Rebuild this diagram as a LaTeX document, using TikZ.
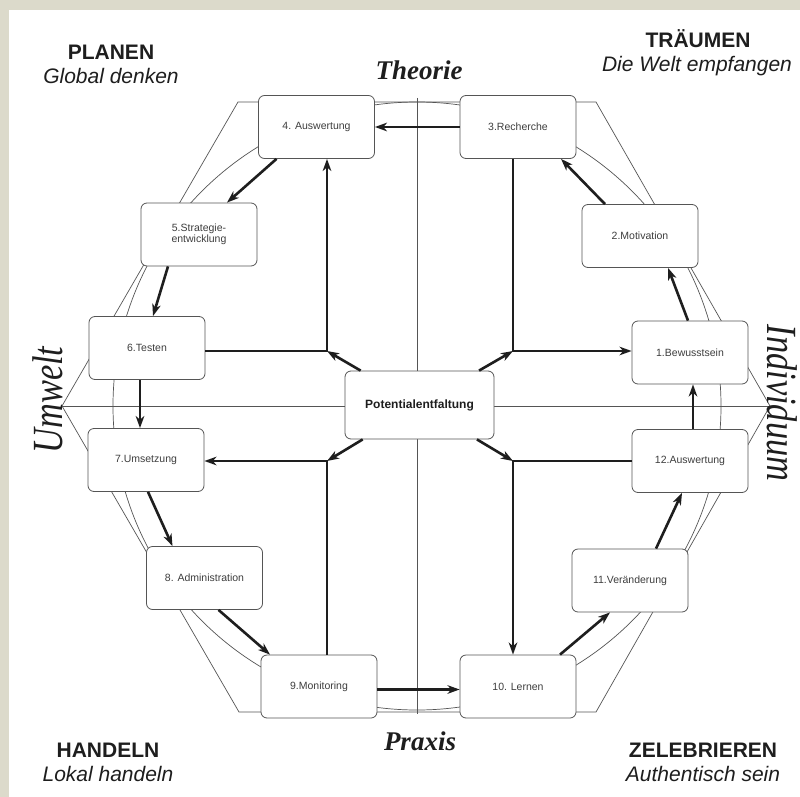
\documentclass[tikz,border=0pt]{standalone}
\usepackage{fontspec}
\setmainfont{Liberation Sans}
\newfontfamily\axisfont{Liberation Serif}
\usetikzlibrary{arrows.meta}
\definecolor{frame}{RGB}{220,218,203}
\definecolor{ink}{RGB}{30,30,30}
\definecolor{boxtext}{RGB}{62,62,62}
\definecolor{thin}{RGB}{85,85,85}
\begin{document}
\begin{tikzpicture}[x=1pt, y=-1pt,
  phase/.style={draw=thin, line width=0.8pt, fill=white, rounded corners=6pt, minimum width=116pt, minimum height=63pt, inner sep=2pt, align=center, text=boxtext, font=\fontsize{10.5}{11.5}\selectfont},
  core/.style={phase, minimum width=149pt, minimum height=68pt, text=ink, font=\fontsize{12}{14}\selectfont\bfseries},
  flow/.style={draw=ink, line width=2.6pt, -{Stealth[length=12pt, width=8.5pt, inset=3.5pt]}},
  guide/.style={draw=thin, line width=0.7pt},
  title/.style={anchor=base, text=ink, font=\fontsize{21}{24}\selectfont\bfseries},
  motto/.style={anchor=base, text=ink, font=\fontsize{21}{24}\selectfont\itshape},
  pole/.style={anchor=base, text=ink, font=\axisfont\fontsize{27}{30}\selectfont\bfseries\itshape},
  side/.style={anchor=base, text=ink, font=\axisfont\fontsize{43}{48}\selectfont\itshape}]
\useasboundingbox (0,0) rectangle (800,797);
\fill[frame] (0,0) rectangle (800,797);
\fill[white] (9,10) rectangle (800,797);

% hexagon, circle and axes
\draw[guide] (238,102) -- (596,102) -- (770,406) -- (596,712) -- (239,712) -- (62,406) -- cycle;
\draw[guide] (417,406) circle[radius=304pt];
\draw[guide] (417,98) -- (417,714);
\draw[guide] (62,406) -- (770,406);

% phases
\node[phase] (b1) at (690,352.5) {1.Bewusstsein};
\node[phase] (b2) at (640,236) {2.Motivation};
\node[phase] (b3) at (518,127) {3.Recherche};
\node[phase] (b4) at (316.5,127) {4. Auswertung};
\node[phase] (b5) at (199,234.5) {5.Strategie-\\entwicklung};
\node[phase] (b6) at (147,348) {6.Testen};
\node[phase] (b7) at (146,460) {7.Umsetzung};
\node[phase] (b8) at (204.5,578) {8. Administration};
\node[phase] (b9) at (319,686.5) {9.Monitoring};
\node[phase] (b10) at (518,686.5) {10. Lernen};
\node[phase] (b11) at (630,580.5) {11.Veränderung};
\node[phase] (b12) at (690,461) {12.Auswertung};
\node[core] (pot) at (419.5,405) {Potentialentfaltung};

% cycle
\draw[flow] ([xshift=-2pt]b1.north) -- ([xshift=28pt]b2.south);
\draw[flow] ([xshift=-35pt]b2.north) -- ([xshift=43pt]b3.south);
\draw[flow] (b3) -- (b4);
\draw[flow] ([xshift=-40pt]b4.south) -- ([xshift=28pt]b5.north);
\draw[flow] ([xshift=-31pt]b5.south) -- ([xshift=6pt]b6.north);
\draw[flow] ([xshift=-7pt]b6.south) -- ([xshift=-6pt]b7.north);
\draw[flow] ([xshift=2pt]b7.south) -- ([xshift=-32pt]b8.north);
\draw[flow] ([xshift=14pt]b8.south) -- ([xshift=-49pt]b9.north);
\draw[flow] ([yshift=-3pt]b9.east) -- ([yshift=-3pt]b10.west);
\draw[flow] ([xshift=42pt]b10.north) -- ([xshift=-20pt]b11.south);
\draw[flow] ([xshift=26pt]b11.north) -- ([xshift=-8pt]b12.south);
\draw[flow] ([xshift=3pt]b12.north) -- ([xshift=3pt]b1.south);

% hub
\coordinate (c1) at (327,351);
\coordinate (c2) at (513,351);
\coordinate (c3) at (327,461);
\coordinate (c4) at (513,461);
\draw[flow] (pot) -- (c1);
\draw[flow] (pot) -- (c2);
\draw[flow] (pot) -- (c3);
\draw[flow] (pot) -- (c4);
\draw[flow] (b6.east |- c1) -- (c1) -- (c1 |- b4.south);
\draw[flow] (c2 |- b3.south) -- (c2) -- (c2 -| b1.west);
\draw[flow] (c3 |- b9.north) -- (c3) -- (c3 -| b7.east);
\draw[flow] (c4 -| b12.west) -- (c4) -- (c4 |- b10.north);

% poles
\node[pole] (theo) at (419,80) {Theorie};
\node[pole] (prax) at (420,750) {Praxis};
\node[side, rotate=90] (umw) at (62,400) {\scalebox{0.8}[1]{Umwelt}};
\node[side, rotate=-90] (ind) at (767,403) {\scalebox{0.8}[1]{Individuum}};

% quarters
\node[title] (plan) at (111,60) {PLANEN};
\node[motto] (plansub) at (111,84) {Global denken};
\node[title] (traum) at (698,48) {TRÄUMEN};
\node[motto] (traumsub) at (697,72) {Die Welt empfangen};
\node[title] (hand) at (108,757) {HANDELN};
\node[motto] (handsub) at (108,781) {Lokal handeln};
\node[title] (zeleb) at (703,757) {ZELEBRIEREN};
\node[motto] (zelebsub) at (703,781) {Authentisch sein};
\end{tikzpicture}
\end{document}
